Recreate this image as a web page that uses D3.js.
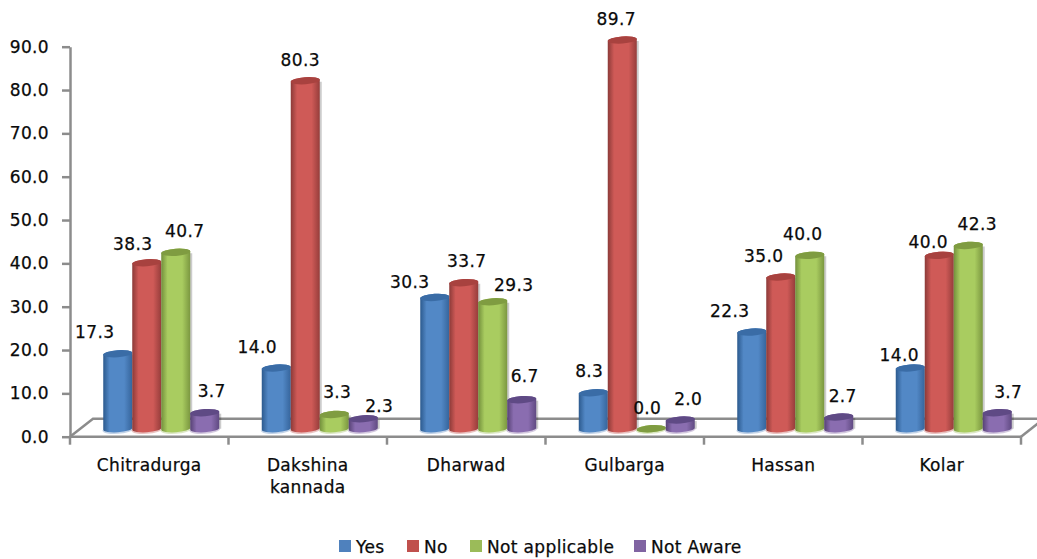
<!DOCTYPE html>
<html>
<head>
<meta charset="utf-8">
<script src="https://cdn.jsdelivr.net/npm/d3@7"></script>
<style>
html,body{margin:0;padding:0;background:#fff;}
svg{display:block;}
text{font-family:"DejaVu Sans",sans-serif;fill:#0a0a0a;stroke:#0a0a0a;stroke-width:0.25px;letter-spacing:0.35px;}
</style>
</head>
<body>
<svg id="chart" width="1037" height="559"></svg>
<script>
const categories = ["Chitradurga", "Dakshina\nkannada", "Dharwad", "Gulbarga", "Hassan", "Kolar"];
const seriesNames = ["Yes", "No", "Not applicable", "Not Aware"];
const yes = [17.3, 14.0, 30.3, 8.3, 22.3, 14.0];
const no = [38.3, 80.3, 33.7, 89.7, 35.0, 40.0];
const notApplicable = [40.7, 3.3, 29.3, 0.0, 40.0, 42.3];
const notAware = [3.7, 2.3, 6.7, 2.0, 2.7, 3.7];
const yTicks = [0, 10, 20, 30, 40, 50, 60, 70, 80, 90];

const seriesValues = [yes, no, notApplicable, notAware];
const palettes = [
  {edge:"#2c5a8e", mid:"#5288c6", right:"#36659c", top:"#3a6ca6", key:"#4f81bd"},
  {edge:"#8c3a38", mid:"#cf5a57", right:"#963d3b", top:"#a8423f", key:"#c0504d"},
  {edge:"#73903c", mid:"#a9cc60", right:"#7b9740", top:"#7f9c41", key:"#9bbb59"},
  {edge:"#574275", mid:"#8a6db0", right:"#604a82", top:"#5f4a85", key:"#8064a2"}
];

// hand-placed label nudges, one row per series, relative to each bar's top
const nudgeX = [
  [-23, -19, -25, -4, -22, -11],
  [-14, -5, 3, -6, -17, -11],
  [9, 3, 21, -4, -7, 9],
  [7, 16, 3, 8, 4, 11]
];
const nudgeY = [
  [-16, -15, -9, -16, -15, -7],
  [-13, -15, -16, -15, -15, -7],
  [-15, -16, -11, -15, -15, -15],
  [-16, -7, -18, -15, -15, -15]
];

const svg = d3.select("#chart");
const frontLeft = 70, frontRight = 1021, floorY = 436.7, topY = 46.7;
const depthX = 23, depthY = 18;

const x = d3.scaleBand().domain(d3.range(categories.length)).range([frontLeft, frontRight]);
const y = d3.scaleLinear().domain([0, 90]).range([floorY, topY]);
const barWidth = 29;
const inner = d3.scaleBand().domain(d3.range(seriesNames.length))
  .range([0, barWidth * seriesNames.length]);

// cylinder shading
const defs = svg.append("defs");
palettes.forEach((p, i) => {
  const g = defs.append("linearGradient").attr("id", "cyl" + i);
  [[0, p.edge], [0.22, p.mid], [0.72, p.mid], [1, p.right]].forEach(([o, c]) =>
    g.append("stop").attr("offset", o).attr("stop-color", c));
});

// floor of the plot area
const axisColor = "#8c8c8c";
const floor = svg.append("g").attr("fill", "none").attr("stroke", axisColor).attr("stroke-width", 2.5);
floor.append("path").attr("d", d3.line()([[frontLeft, floorY], [frontLeft + depthX, floorY - depthY], [1037, floorY - depthY]]));
floor.append("path").attr("d", d3.line()([[frontRight, floorY], [frontRight + depthX, floorY - depthY]]));

// axes
const yAxis = svg.append("g").attr("transform", `translate(${frontLeft},0)`)
  .call(d3.axisLeft(y).tickValues(yTicks).tickFormat(d3.format(".1f")).tickSize(8).tickSizeOuter(0).tickPadding(13));
yAxis.select(".domain").attr("stroke", axisColor).attr("stroke-width", 2.5);
yAxis.selectAll(".tick line").attr("stroke", axisColor).attr("stroke-width", 2.5);
yAxis.selectAll("text").attr("font-size", 17)
  .style("font-family", '"DejaVu Sans",sans-serif').attr("fill", "#0a0a0a");

const xAxis = svg.append("g");
xAxis.append("path").attr("fill", "none").attr("stroke", axisColor).attr("stroke-width", 2.5)
  .attr("d", d3.line()([[frontLeft, floorY], [frontRight, floorY]]));
xAxis.selectAll("line").data(d3.range(categories.length + 1)).join("line")
  .attr("x1", i => i < categories.length ? x(i) : frontRight)
  .attr("x2", i => i < categories.length ? x(i) : frontRight)
  .attr("y1", floorY).attr("y2", floorY + 8)
  .attr("stroke", axisColor).attr("stroke-width", 2.5);

const catLabels = svg.append("g").attr("text-anchor", "middle").attr("font-size", 17);
categories.forEach((c, i) => {
  const t = catLabels.append("text").attr("x", x(i) + x.bandwidth() / 2).attr("y", 471);
  c.split("\n").forEach((line, k) =>
    t.append("tspan").attr("x", x(i) + x.bandwidth() / 2).attr("dy", k ? 22 : 0).text(line));
});

// bars sit on the floor, pushed back by part of its depth; their rims tilt slightly
const pushX = 12, lift = 8, ry = 3.6, tilt = -4, rise = 1;
const groupPad = (x.bandwidth() - inner.range()[1]) / 2;
const barLeft = (c, s) => x(c) + groupPad + pushX + inner(s);
const barTop = v => y(v) - lift;
const barBase = y(0) - lift;
const rx = barWidth / 2;

const barData = [];
seriesValues.forEach((vals, s) => vals.forEach((v, c) => barData.push({s, c, v})));
const bars = svg.append("g").selectAll("g").data(barData).join("g");
// soft shade along the right side of each column
bars.append("path")
  .attr("fill", "#000").attr("opacity", 0.2)
  .attr("d", d => {
    const l = barLeft(d.c, d.s) + 2, r = l + barWidth, t = barTop(d.v) + 1;
    return `M${l},${t}H${r}V${barBase}H${l}Z`;
  });
// pale reflection under the bottom rim
bars.append("path")
  .attr("fill", "none")
  .attr("stroke", d => palettes[d.s].key).attr("stroke-opacity", 0.35).attr("stroke-width", 2)
  .attr("d", d => {
    const l = barLeft(d.c, d.s), r = l + barWidth;
    return `M${l},${barBase + rise + 0.5}A${rx},${ry} ${tilt} 0 0 ${r},${barBase - rise + 0.5}`;
  });
bars.append("path")
  .attr("fill", d => `url(#cyl${d.s})`)
  .attr("d", d => {
    const l = barLeft(d.c, d.s), r = l + barWidth, t = barTop(d.v);
    return `M${l},${t + rise}V${barBase + rise}A${rx},${ry} ${tilt} 0 0 ${r},${barBase - rise}V${t - rise}A${rx},${ry} ${tilt} 0 0 ${l},${t + rise}Z`;
  });
bars.append("ellipse")
  .attr("rx", rx).attr("ry", ry)
  .attr("transform", d => `translate(${barLeft(d.c, d.s) + rx},${barTop(d.v)}) rotate(${tilt})`)
  .attr("fill", d => palettes[d.s].top);

// value labels
svg.append("g").attr("text-anchor", "middle").attr("font-size", 17)
  .selectAll("text").data(barData).join("text")
  .attr("x", d => barLeft(d.c, d.s) + rx + nudgeX[d.s][d.c])
  .attr("y", d => barTop(d.v) + nudgeY[d.s][d.c])
  .text(d => d3.format(".1f")(d.v));

// legend
const legendX = d3.scaleOrdinal().domain(seriesNames).range([339, 407, 470, 634]);
const legend = svg.append("g").selectAll("g").data(seriesNames).join("g")
  .attr("transform", d => `translate(${legendX(d)},540)`);
legend.append("rect").attr("width", 12).attr("height", 12).attr("fill", (d, i) => palettes[i].key);
legend.append("text").attr("x", 17).attr("y", 12.5).attr("font-size", 17).text(d => d);
</script>
</body>
</html>
